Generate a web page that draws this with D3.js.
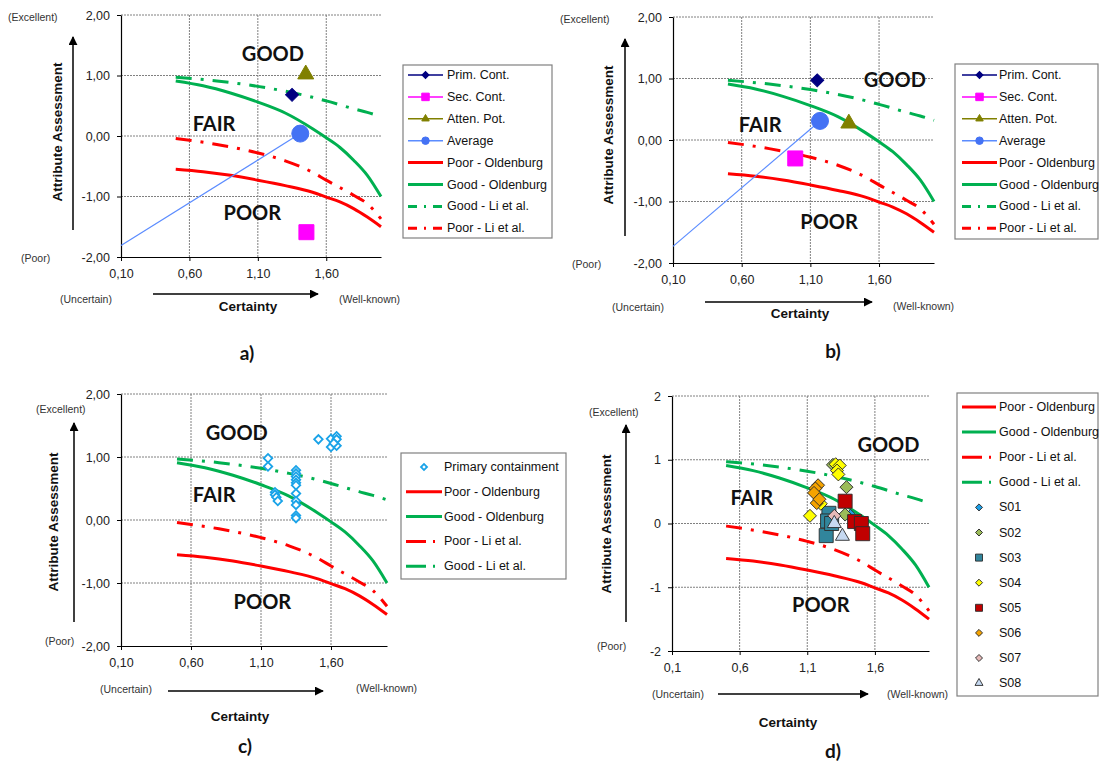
<!DOCTYPE html>
<html>
<head>
<meta charset="utf-8">
<script src="https://cdn.jsdelivr.net/npm/d3@7"></script>
<style>
  body { margin: 0; background: #fff; }
  text { font-family: "Liberation Sans", Arial, sans-serif; }
</style>
</head>
<body>
<script>
// ticks
var xTicks = [0.1, 0.6, 1.1, 1.6];
var yTicks = [-2, -1, 0, 1, 2];

// threshold curves (same in all four charts)
var oldX = [0.5, 0.7, 0.9, 1.1, 1.3, 1.5, 1.6, 1.7, 1.8, 1.9, 2.0];
var goodOld = [0.91, 0.83, 0.71, 0.56, 0.38, 0.12, -0.03, -0.19, -0.40, -0.65, -1.0];
var poorOld = [-0.55, -0.59, -0.65, -0.73, -0.82, -0.93, -1.01, -1.09, -1.2, -1.34, -1.5];
var liX = [0.5, 0.8, 1.1, 1.3, 1.5, 1.6, 1.8, 1.9, 2.0];
var goodLi = [0.97, 0.91, 0.82, 0.74, 0.64, 0.58, 0.45, 0.39, 0.32];
var poorLi = [-0.04, -0.14, -0.28, -0.41, -0.60, -0.73, -0.98, -1.12, -1.37];

// a) and b): Prim. Cont., Sec. Cont., Atten. Pot., Average
var seriesAB = ["Prim. Cont.", "Sec. Cont.", "Atten. Pot.", "Average"];
var aX = [1.35, 1.455, 1.45, 1.41];
var aY = [0.68, -1.59, 1.02, 0.04];
var aAvgFrom = [0.1, -1.81];
var bX = [1.15, 0.99, 1.38, 1.17];
var bY = [0.97, -0.30, 0.27, 0.31];
var bAvgFrom = [0.1, -1.73];

// c) primary containment
var primX = [1.51, 1.60, 1.60, 1.64, 1.64, 1.64, 1.62, 1.15, 1.15, 1.2, 1.2, 1.21, 1.22,
             1.35, 1.35, 1.35, 1.35, 1.35, 1.35, 1.35, 1.35, 1.35, 1.35, 1.35];
var primY = [1.28, 1.29, 1.16, 1.33, 1.28, 1.18, 1.22, 0.98, 0.85, 0.44, 0.40, 0.36, 0.30,
             0.79, 0.74, 0.69, 0.64, 0.59, 0.55, 0.42, 0.30, 0.24, 0.07, 0.03];

// d) sites
var sites = ["S01", "S02", "S03", "S04", "S05", "S06", "S07", "S08"];
var siteX = [[1.42], [1.39, 1.38, 1.29], [1.26, 1.25, 1.24, 1.28], [1.31, 1.34, 1.32, 1.33, 1.12, 1.2],
             [1.38, 1.45, 1.50, 1.51], [1.18, 1.16, 1.15, 1.17, 1.19], [1.30], [1.30, 1.36]];
var siteY = [[0.12], [0.57, 0.14, 0.92], [0.16, 0.04, -0.19, 0.0], [0.93, 0.91, 0.83, 0.77, 0.12, 0.31],
             [0.35, 0.03, 0.0, -0.16], [0.60, 0.55, 0.48, 0.32, 0.38], [0.12], [0.0, -0.2]];
var siteShape = ["diamond", "diamond", "square", "diamond", "square", "diamond", "diamond", "triangle"];
var siteColor = ["#1E9FE6", "#9BBB59", "#31859C", "#FFFF00", "#C00000", "#F5A300", "#E6B9B8", "#C6D9F1"];

var svg = d3.select("body").append("svg").attr("width", 1099).attr("height", 762);
svg.append("rect").attr("width", 1099).attr("height", 762).attr("fill", "#fff");

svg.append("defs").append("marker")
  .attr("id", "arr").attr("viewBox", "0 0 10 10").attr("refX", 9).attr("refY", 5)
  .attr("markerWidth", 9).attr("markerHeight", 9).attr("markerUnits", "userSpaceOnUse")
  .attr("orient", "auto")
  .append("path").attr("d", "M0,0L10,5L0,10z").attr("fill", "#000");

function symPath(shape, s) {
  if (shape == "diamond") return d3.symbol(d3.symbolSquare, s * s / 2)();
  if (shape == "square") return d3.symbol(d3.symbolSquare, s * s)();
  if (shape == "triangle") return d3.symbol(d3.symbolTriangle, s * s * Math.sqrt(3) / 4)();
  return d3.symbol(d3.symbolCircle, Math.PI * s * s / 4)();
}
function drawSym(g, shape, s, px, py, fill, stroke, sw) {
  g.append("path").attr("d", symPath(shape, s))
    .attr("transform", "translate(" + px + "," + py + ")" + (shape == "diamond" ? " rotate(45)" : ""))
    .attr("fill", fill).attr("stroke", stroke).attr("stroke-width", sw);
}

var comma2 = function (v) { return d3.format(".2f")(v).replace(".", ",").replace("\u2212", "-"); };
var comma1 = function (v) { return d3.format(".1f")(v).replace(".", ","); };
var intf = function (v) { return d3.format("d")(v).replace("\u2212", "-"); };

var GREEN = "#00B050", RED = "#FF0000";
var LI_DASH = "16,9,3,9";

function drawPanel(p) {
  var g = svg.append("g");
  var x = d3.scaleLinear().domain([0.1, 2.0]).range([p.left, p.right]);
  var y = d3.scaleLinear().domain([-2, 2]).range([p.bottom, p.top]);

  // grid
  g.selectAll(".hg").data(yTicks.filter(function (d) { return d > -2; })).enter().append("line")
    .attr("x1", p.left).attr("x2", p.right).attr("y1", y).attr("y2", y)
    .attr("stroke", "#808080").attr("stroke-width", 1).attr("stroke-dasharray", "2,1");
  g.selectAll(".vg").data(xTicks.filter(function (d) { return d > 0.1; })).enter().append("line")
    .attr("x1", x).attr("x2", x).attr("y1", p.top).attr("y2", p.bottom)
    .attr("stroke", "#808080").attr("stroke-width", 1).attr("stroke-dasharray", "2,1");

  // axes
  var ax = g.append("g").attr("transform", "translate(0," + p.bottom + ")")
    .call(d3.axisBottom(x).tickValues(xTicks).tickSize(4).tickPadding(8).tickSizeOuter(0).tickFormat(p.xf));
  var ay = g.append("g").attr("transform", "translate(" + p.left + ",0)")
    .call(d3.axisLeft(y).tickValues(yTicks).tickSize(4).tickPadding(7).tickSizeOuter(0).tickFormat(p.yf));
  [ax, ay].forEach(function (a) {
    a.selectAll("text").attr("font-size", 12.5).attr("fill", "#222")
      .style("font-family", "'Liberation Sans', Arial, sans-serif");
    a.select(".domain").attr("stroke", "#000").attr("stroke-width", 1.2);
    a.selectAll(".tick line").attr("stroke", "#000");
  });

  // threshold curves
  var line = d3.line().x(function (d) { return x(d[0]); }).y(function (d) { return y(d[1]); })
    .curve(d3.curveMonotoneX);
  var curves = [
    [oldX, poorOld, RED, null],
    [oldX, goodOld, GREEN, null],
    [liX, goodLi, GREEN, LI_DASH],
    [liX, poorLi, RED, LI_DASH]
  ];
  curves.forEach(function (c) {
    g.append("path").attr("d", line(d3.zip(c[0], c[1])))
      .attr("fill", "none").attr("stroke", c[2]).attr("stroke-width", 3)
      .attr("stroke-dasharray", c[3]);
  });

  // region labels
  p.regions.forEach(function (r) {
    g.append("text").attr("x", x(r[1])).attr("y", y(r[2])).text(r[0])
      .attr("text-anchor", "middle").attr("dominant-baseline", "central")
      .attr("font-size", 20).attr("font-weight", "bold").attr("fill", "#111")
      .style("font-family", "Lato, 'Open Sans', sans-serif");
  });

  // side labels
  var small = function (t, xx, yy, anchor) {
    g.append("text").attr("x", xx).attr("y", yy).text(t).attr("text-anchor", anchor || "start")
      .attr("dominant-baseline", "central").attr("font-size", 10.5).attr("fill", "#333");
  };
  small("(Excellent)", p.exc[0], p.exc[1]);
  small("(Poor)", p.poor[0], p.poor[1]);
  small("(Uncertain)", p.unc[0], p.unc[1]);
  small("(Well-known)", p.wk[0], p.wk[1]);
  g.append("text").attr("transform", "translate(" + p.attr[0] + "," + p.attr[1] + ") rotate(-90)")
    .text("Attribute Assessment").attr("text-anchor", "middle").attr("dominant-baseline", "central")
    .attr("font-size", 13.5).attr("font-weight", "bold").attr("fill", "#111");
  g.append("text").attr("x", p.cert[0]).attr("y", p.cert[1]).text("Certainty")
    .attr("text-anchor", "middle").attr("dominant-baseline", "central")
    .attr("font-size", 13.5).attr("font-weight", "bold").attr("fill", "#111");
  g.append("line").attr("x1", p.va[0]).attr("x2", p.va[0]).attr("y1", p.va[1]).attr("y2", p.va[2])
    .attr("stroke", "#000").attr("stroke-width", 1.5).attr("marker-end", "url(#arr)");
  g.append("line").attr("x1", p.ha[0]).attr("x2", p.ha[1]).attr("y1", p.ha[2]).attr("y2", p.ha[2])
    .attr("stroke", "#000").attr("stroke-width", 1.5).attr("marker-end", "url(#arr)");
  g.append("text").attr("x", p.lab[0]).attr("y", p.lab[1]).text(p.id + ")")
    .attr("text-anchor", "middle").attr("dominant-baseline", "central")
    .attr("font-size", 19).attr("font-weight", "bold").attr("fill", "#111")
    .style("font-family", "Lato, 'Open Sans', sans-serif");

  return { g: g, x: x, y: y };
}

function drawLegend(box, entries, sx1, sx2, tx, y0, step) {
  var g = svg.append("g");
  g.append("rect").attr("x", box[0]).attr("y", box[1]).attr("width", box[2]).attr("height", box[3])
    .attr("fill", "#fff").attr("stroke", "#808080").attr("stroke-width", 1.2);
  entries.forEach(function (e, i) {
    var yy = y0 + i * step;
    if (e.w) {
      g.append("line").attr("x1", sx1).attr("x2", sx2).attr("y1", yy).attr("y2", yy)
        .attr("stroke", e.lc || e.color).attr("stroke-width", e.w).attr("stroke-dasharray", e.dash || null);
    }
    if (e.shape) drawSym(g, e.shape, e.ms, (sx1 + sx2) / 2, yy, e.color, e.stroke || e.color, e.sw || 1);
    g.append("text").attr("x", tx).attr("y", yy).text(e.label).attr("dominant-baseline", "central")
      .attr("font-size", 12.5).attr("fill", "#111");
  });
}

// ---------- a) ----------
var pa = drawPanel({
  id: "a", left: 121, right: 381, top: 15, bottom: 257, xf: comma2, yf: comma2,
  regions: [["GOOD", 1.21, 1.37], ["FAIR", 0.78, 0.21], ["POOR", 1.06, -1.26]],
  exc: [8, 17], poor: [21, 258], unc: [60, 299], wk: [339, 299], cert: [248, 306], attr: [57, 132],
  va: [73, 230, 37], ha: [153, 318, 294], lab: [247, 352]
});
// ---------- b) ----------
var pb = drawPanel({
  id: "b", left: 673, right: 934, top: 17, bottom: 263, xf: comma2, yf: comma2,
  regions: [["GOOD", 1.715, 1.0], ["FAIR", 0.735, 0.26], ["POOR", 1.236, -1.31]],
  exc: [560, 19], poor: [572, 264], unc: [612, 307], wk: [893, 306], cert: [800, 313], attr: [608, 135],
  va: [625, 236, 39], ha: [705, 872, 302], lab: [833, 350]
});

var abShapes = ["diamond", "square", "triangle", "circle"];
var abColors = ["#000080", "#FF00FF", "#808000", "#4472F4"];
var abSizes = [13, 15, 16, 17];
function drawAB(P, xs, ys, from) {
  P.g.append("line").attr("x1", P.x(from[0])).attr("y1", P.y(from[1]))
    .attr("x2", P.x(xs[3])).attr("y2", P.y(ys[3])).attr("stroke", "#5B8CFF").attr("stroke-width", 1.2);
  seriesAB.forEach(function (s, i) {
    drawSym(P.g, abShapes[i], abSizes[i], P.x(xs[i]), P.y(ys[i]), abColors[i], abColors[i], 1);
  });
}
drawAB(pa, aX, aY, aAvgFrom);
drawAB(pb, bX, bY, bAvgFrom);

var abLegend = seriesAB.map(function (s, i) {
  return { label: s, color: abColors[i], w: 1.5, lc: i == 3 ? "#5B8CFF" : abColors[i], shape: abShapes[i], ms: i == 0 ? 7 : 7.5 };
}).concat([
  { label: "Poor - Oldenburg", color: RED, w: 3 },
  { label: "Good - Oldenburg", color: GREEN, w: 3 },
  { label: "Good - Li et al.", color: GREEN, w: 3, dash: "9,7,2,7,9" },
  { label: "Poor - Li et al.", color: RED, w: 3, dash: "9,7,2,7,9" }
]);
drawLegend([403, 65, 149, 173], abLegend, 408, 443, 447, 75, 21.9);
drawLegend([955, 64, 143, 175], abLegend, 962, 997, 999, 75, 21.9);

// ---------- c) ----------
var pc = drawPanel({
  id: "c", left: 121, right: 387, top: 394, bottom: 646, xf: comma2, yf: comma2,
  regions: [["GOOD", 0.927, 1.40], ["FAIR", 0.766, 0.41], ["POOR", 1.11, -1.29]],
  exc: [36, 409], poor: [45, 641], unc: [100, 689], wk: [356, 688], cert: [240, 716], attr: [53, 522],
  va: [74, 622, 423], ha: [168, 323, 691], lab: [245, 745]
});
d3.zip(primX, primY).forEach(function (d) {
  drawSym(pc.g, "diamond", 8.5, pc.x(d[0]), pc.y(d[1]), "#fff", "#1AA3E8", 1.8);
});
var lineLegend = [
  { label: "Poor - Oldenburg", color: RED, w: 3 },
  { label: "Good - Oldenburg", color: GREEN, w: 3 },
  { label: "Poor - Li et al.", color: RED, w: 3, dash: "20,7,2,20" },
  { label: "Good - Li et al.", color: GREEN, w: 3, dash: "20,7,2,20" }
];
drawLegend([401, 453, 165, 126],
  [{ label: "Primary containment", color: "#fff", stroke: "#1AA3E8", sw: 1.8, shape: "diamond", ms: 6 }].concat(lineLegend),
  406, 442, 444, 467, 24.8);

// ---------- d) ----------
var pd = drawPanel({
  id: "d", left: 672, right: 929, top: 396, bottom: 651, xf: comma1, yf: intf,
  regions: [["GOOD", 1.70, 1.25], ["FAIR", 0.69, 0.42], ["POOR", 1.20, -1.26]],
  exc: [589, 412], poor: [597, 646], unc: [652, 694], wk: [887, 694], cert: [788, 722], attr: [606, 524],
  va: [626, 622, 425], ha: [718, 868, 694], lab: [833, 750]
});
sites.forEach(function (s, i) {
  var sz = siteShape[i] == "square" ? 14 : (siteShape[i] == "triangle" ? 14 : 13);
  siteX[i].forEach(function (v, j) {
    drawSym(pd.g, siteShape[i], sz, pd.x(v), pd.y(siteY[i][j]), siteColor[i], "#2b2b2b", 0.9);
  });
});
drawLegend([957, 393, 141, 303],
  lineLegend.concat(sites.map(function (s, i) {
    return { label: s, color: siteColor[i], stroke: "#2b2b2b", sw: 0.9, shape: siteShape[i],
      ms: siteShape[i] == "square" ? 7 : (siteShape[i] == "triangle" ? 8 : 7) };
  })),
  962, 996, 999, 407, 25.1);
</script>
</body>
</html>
